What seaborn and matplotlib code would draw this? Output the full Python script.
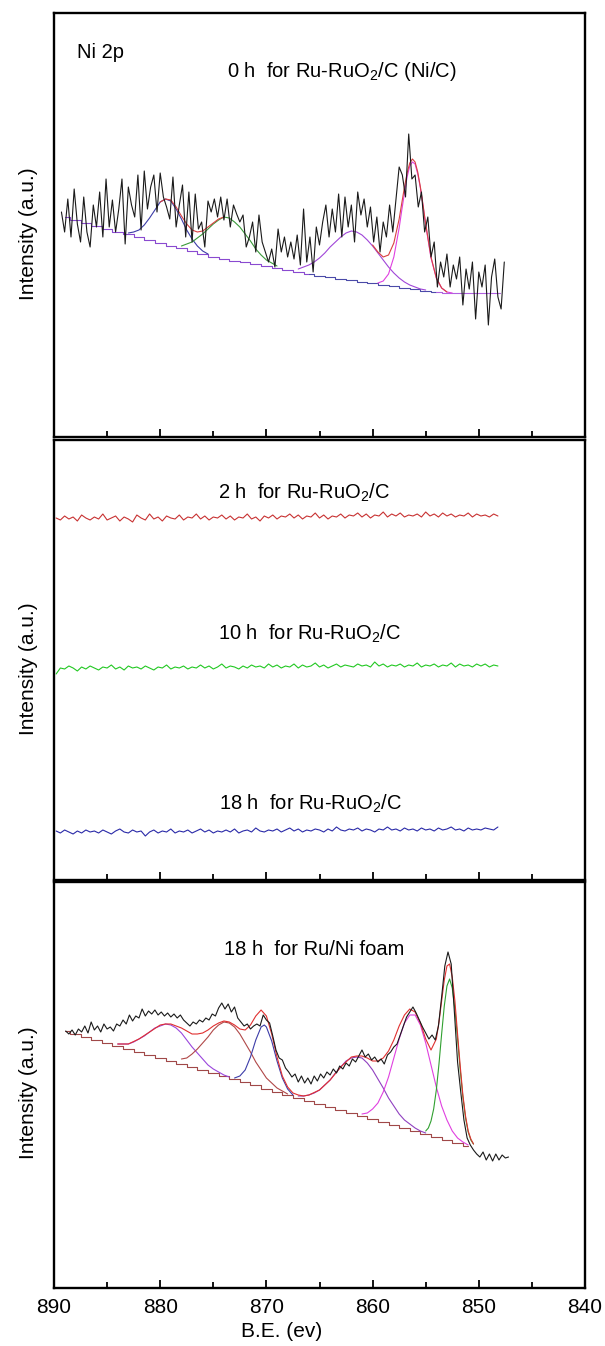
import numpy as np
import matplotlib
matplotlib.use("Agg")
import matplotlib.pyplot as plt
import seaborn as sns
from matplotlib.ticker import MultipleLocator

sns.set_style("white")
plt.rcParams['font.family'] = ['Liberation Sans', 'DejaVu Sans']
plt.rcParams['mathtext.fontset'] = 'custom'
plt.rcParams['mathtext.rm'] = 'Liberation Sans'
plt.rcParams['mathtext.it'] = 'Liberation Sans:italic'
plt.rcParams['text.color'] = 'black'
plt.rcParams['axes.labelcolor'] = 'black'
plt.rcParams['xtick.color'] = 'black'
plt.rcParams['ytick.color'] = 'black'


def grid(start, stop, step):
    return np.round(np.arange(start, stop - step * 0.5, -step), 3)


# ---------------- Panel 1: 0 h for Ru-RuO2/C (Ni/C) ----------------
p1_be = grid(889.3, 847.6, 0.3)
p1_raw = [225, 205, 238, 200, 248, 213, 195, 240, 205, 190,
          232, 210, 245, 200, 258, 210, 237, 205, 228, 258,
          193, 250, 232, 220, 262, 207, 266, 228, 250, 262,
          225, 264, 240, 230, 218, 260, 210, 232, 252, 200,
          245, 195, 243, 208, 215, 190, 236, 225, 238, 220,
          240, 217, 238, 210, 232, 223, 215, 222, 190, 200,
          215, 185, 222, 195, 185, 175, 188, 170, 208, 185,
          200, 180, 195, 178, 202, 172, 228, 175, 200, 165,
          210, 192, 215, 232, 200, 228, 205, 243, 200, 240,
          210, 232, 195, 245, 222, 238, 210, 230, 195, 220,
          185, 215, 200, 232, 205, 238, 270, 262, 240, 303,
          258, 262, 230, 245, 205, 220, 180, 195, 150, 175,
          160, 183, 150, 172, 158, 180, 132, 168, 148, 175,
          118, 165, 150, 172, 112, 160, 178, 140, 128, 175]
p1_bg_be = grid(889, 848, 1.0)
p1_bg = [220, 217, 214, 211, 208, 205, 203, 200, 197, 194,
         191, 189, 186, 183, 180, 178, 176, 175, 173, 171,
         169, 167, 165, 163, 161, 160, 158, 157, 155, 154,
         152, 151, 149, 148, 146, 145, 144, 144, 144, 144,
         144, 144]
p1_blue_be = grid(883, 875.5, 0.5)
p1_blue = [204, 205, 207, 212, 219, 227, 235, 238, 236, 228, 218, 207, 198, 191, 186, 183]
p1_green_be = grid(878, 869, 0.5)
p1_green = [191, 193, 195, 199, 203, 208, 213, 217, 220, 219, 215, 210, 203, 196, 188, 182, 177, 174, 171]
p1_purple_be = grid(867, 855, 0.5)
p1_purple = [168, 170, 172, 175, 179, 184, 190, 195, 200, 204, 206, 205, 202,
             197, 191, 184, 177, 170, 164, 159, 155, 152, 150, 148, 147]
p1_mag_be = [859.5, 859, 858.5, 858, 857.5, 857.25, 857, 856.75, 856.5, 856.25,
             856, 855.75, 855.5, 855.25, 855, 854.5, 854, 853.5, 853, 852.5]
p1_mag = [154, 156, 163, 180, 209, 227, 244, 260, 271, 275,
          273, 263, 249, 231, 212, 179, 159, 149, 145, 144]
p1_env1_be = grid(880, 874, 0.5)
p1_env1 = [235, 238, 237, 230, 221, 213, 207, 205, 206, 210, 214, 218, 220]
p1_env2_be = [860, 859.5, 859, 858.5, 858, 857.5, 857.25, 857, 856.75, 856.5,
              856.25, 856, 855.75, 855.5, 855.25, 855, 854.5, 854, 853.5, 853]
p1_env2 = [192, 185, 180, 182, 194, 218, 234, 250, 264, 274,
           278, 275, 265, 250, 232, 213, 180, 159, 149, 145]

# ---------------- Panel 2: 2 h / 10 h / 18 h for Ru-RuO2/C ----------------
p2_be = grid(889.8, 848.2, 0.4)
p2_2h = [362, 360, 364, 361, 363, 359, 365, 362, 360, 363,
         361, 366, 360, 362, 364, 359, 363, 361, 358, 365,
         362, 360, 366, 361, 363, 359, 364, 362, 361, 365,
         360, 363, 362, 366, 361, 364, 360, 363, 362, 365,
         361, 364, 360, 363, 362, 366, 361, 363, 359, 364,
         362, 365, 361, 364, 363, 366, 362, 365, 361, 364,
         363, 367, 362, 365, 361, 364, 363, 366, 362, 365,
         364, 367, 363, 366, 362, 365, 364, 368, 363, 366,
         364, 367, 363, 365, 364, 366, 363, 368, 364, 366,
         363, 367, 364, 366, 363, 365, 364, 367, 363, 366,
         364, 365, 363, 366, 364]
p2_10h = [206, 212, 211, 214, 212, 209, 213, 211, 214, 212,
          210, 213, 212, 215, 211, 213, 210, 214, 212, 213,
          211, 214, 212, 210, 213, 212, 215, 211, 213, 212,
          214, 211, 213, 212, 215, 212, 214, 211, 213, 216,
          212, 214, 213, 211, 214, 212, 215, 213, 214, 212,
          216, 213, 215, 212, 214, 213, 216, 212, 215, 213,
          214, 217, 213, 215, 212, 214, 216, 213, 215, 214,
          213, 216, 214, 215, 213, 218, 214, 216, 213, 215,
          214, 216, 213, 215, 214, 217, 213, 215, 214, 216,
          213, 215, 214, 217, 213, 216, 214, 215, 213, 216,
          214, 216, 213, 215, 214]
p2_18h = [49, 47, 50, 48, 46, 49, 47, 50, 48, 49,
          47, 50, 48, 46, 49, 51, 48, 47, 50, 48,
          49, 44, 48, 50, 47, 49, 48, 51, 47, 49,
          48, 50, 47, 49, 51, 48, 50, 47, 49, 48,
          50, 48, 51, 47, 49, 50, 48, 52, 49, 48,
          50, 49, 51, 48, 50, 52, 49, 51, 48, 50,
          49, 51, 50, 48, 51, 49, 53, 50, 49, 51,
          50, 52, 49, 51, 50, 48, 51, 50, 53, 50,
          51, 49, 52, 50, 51, 49, 52, 50, 51, 49,
          52, 50, 51, 53, 50, 51, 49, 52, 50, 51,
          50, 52, 51, 50, 53]

# ---------------- Panel 3: 18 h for Ru/Ni foam ----------------
p3_be = grid(888.9, 847.2, 0.3)
p3_raw = [257, 254, 258, 253, 259, 256, 262, 255, 266, 258,
          262, 256, 264, 259, 261, 257, 264, 262, 268, 264,
          273, 267, 272, 270, 279, 272, 277, 274, 278, 273,
          276, 272, 275, 271, 274, 270, 273, 268, 265, 262,
          266, 264, 268, 266, 270, 268, 274, 272, 280, 285,
          279, 284, 276, 281, 270, 266, 262, 264, 259, 262,
          264, 262, 273, 268, 265, 252, 238, 230, 228, 220,
          216, 211, 214, 206, 212, 205, 210, 204, 212, 207,
          214, 210, 216, 213, 219, 215, 222, 219, 225, 222,
          229, 226, 232, 238, 231, 234, 228, 231, 226, 229,
          224, 233, 236, 241, 244, 253, 262, 271, 276, 281,
          275, 268, 261, 255, 249, 253, 248, 262, 291, 322,
          336, 324, 276, 226, 196, 168, 150, 143, 138, 134,
          131, 136, 128, 134, 127, 134, 128, 133, 130, 131]
p3_bg_be = grid(889, 851, 1.0)
p3_bg = [257, 254, 251, 248, 245, 242, 239, 236, 233, 230,
         227, 224, 221, 218, 215, 212, 209, 206, 203, 199,
         196, 193, 190, 187, 184, 181, 178, 175, 172, 169,
         166, 163, 160, 157, 154, 151, 148, 145, 142]
p3_purple1_be = grid(884, 873.5, 0.5)
p3_purple1 = [244, 244, 244, 246, 249, 252, 256, 260, 262, 264, 263,
              260, 255, 248, 241, 235, 229, 223, 219, 216, 213, 211]
p3_brown_be = grid(878, 868, 0.5)
p3_brown = [229, 230, 234, 239, 245, 251, 258, 263, 266, 265, 261,
            254, 245, 236, 226, 218, 210, 205, 200, 197, 194]
p3_navy_be = [873, 872.5, 872, 871.5, 871, 870.5, 870.2, 870, 869.5, 869, 868.5, 868, 867.5]
p3_navy = [210, 212, 218, 231, 248, 261, 263, 261, 247, 227, 210, 199, 193]
p3_purple2_be = grid(867, 855, 0.5)
p3_purple2 = [192, 192, 193, 195, 198, 203, 208, 215, 221, 227, 230, 231, 230,
              225, 218, 209, 200, 190, 182, 174, 168, 164, 160, 157, 155]
p3_mag_be = grid(861, 851, 0.5)
p3_mag = [174, 175, 179, 185, 196, 211, 230, 249, 265, 273, 273,
          263, 245, 223, 201, 182, 168, 157, 150, 146, 143]
p3_green_be = grid(855, 850.5, 0.25)
p3_green = [157, 160, 167, 179, 198, 224, 254, 282, 302, 309,
            300, 279, 249, 218, 191, 170, 156, 148, 144]
p3_env_be = [884, 883, 882, 881, 880, 879.5, 879, 878.5, 878, 877.5, 877, 876.5, 876, 875.5, 875,
             874.5, 874, 873.5, 873, 872.5, 872, 871.5, 871, 870.5, 870,
             869.5, 869, 868.5, 868, 867.5, 867, 866.5, 866,
             865, 864, 863, 862,
             861.5, 861, 860.5, 860, 859.5, 859, 858.5, 858, 857.5, 857,
             856.5, 856, 855.5, 855, 854.5, 854,
             853.75, 853.5, 853.25, 853, 852.75, 852.5, 852.25, 852,
             851.75, 851.5, 851.25, 851, 850.75, 850.5]
p3_env = [244, 244, 249, 256, 263, 264, 264, 262, 260, 257, 254, 254, 255, 258, 262,
          265, 267, 266, 263, 259, 258, 263, 272, 278, 272,
          254, 231, 212, 201, 195, 193, 192, 193,
          198, 208, 221, 231,
          232, 232, 230, 227, 227, 230, 237, 248, 262, 273,
          279, 276, 265, 249, 238, 249,
          266, 287, 308, 322, 324, 311, 287, 254,
          222, 193, 172, 157, 149, 144]

# ---------------- Figure ----------------
fig = plt.figure(figsize=(6.05, 13.46), dpi=100)
L, W = 54 / 605, 531 / 605
ax1 = fig.add_axes([L, 1 - 437 / 1346, W, 424.3 / 1346])
ax2 = fig.add_axes([L, 1 - 880 / 1346, W, 440 / 1346])
ax3 = fig.add_axes([L, 1 - 1288 / 1346, W, 406 / 1346])

LW = 0.8


def line(ax, x, y, color, lw=LW, **kw):
    sns.lineplot(x=np.asarray(x, dtype=float), y=np.asarray(y, dtype=float), ax=ax,
                 color=color, linewidth=lw, estimator=None, sort=False,
                 legend=False, **kw)


# panel 1
bgx = np.asarray(p1_bg_be)
bgy = np.asarray(p1_bg)
m1 = bgx >= 866
m2 = (bgx <= 866) & (bgx >= 854)
m3 = bgx <= 854
line(ax1, bgx[m1], bgy[m1], '#8a4ad0', drawstyle='steps-mid')
line(ax1, bgx[m2], bgy[m2], '#4a4aa8', drawstyle='steps-mid')
line(ax1, bgx[m3], bgy[m3], '#b060e0', drawstyle='steps-mid')
line(ax1, p1_blue_be, p1_blue, '#3c3ca8')
line(ax1, p1_green_be, p1_green, '#3a9a3a')
line(ax1, p1_purple_be, p1_purple, '#a046d8')
line(ax1, p1_mag_be, p1_mag, '#e040e0')
line(ax1, p1_env1_be, p1_env1, '#d84040')
line(ax1, p1_env2_be, p1_env2, '#d84040')
line(ax1, p1_be, p1_raw, '#1a1a1a')
ax1.set_ylim(0, 424.3)
ax1.text(887.8, 378.7, 'Ni 2p', fontsize=14.5, ha='left', va='baseline')
ax1.text(862.9, 360.3, r'0 h  for Ru-RuO$_\mathregular{2}$/C (Ni/C)', fontsize=14.5,
         ha='center', va='baseline')

# panel 2
line(ax2, p2_be, p2_2h, '#c83232')
line(ax2, p2_be, p2_10h, '#22c822')
line(ax2, p2_be, p2_18h, '#2a2aa8')
ax2.set_ylim(0, 440)
ax2.text(866.5, 381.7, r'2 h  for Ru-RuO$_\mathregular{2}$/C', fontsize=14.5, ha='center', va='baseline')
ax2.text(865.9, 240.7, r'10 h  for Ru-RuO$_\mathregular{2}$/C', fontsize=14.5, ha='center', va='baseline')
ax2.text(865.8, 70.7, r'18 h  for Ru-RuO$_\mathregular{2}$/C', fontsize=14.5, ha='center', va='baseline')

# panel 3
line(ax3, p3_bg_be, p3_bg, '#a04848', drawstyle='steps-mid')
line(ax3, p3_purple1_be, p3_purple1, '#9a46dc')
line(ax3, p3_brown_be, p3_brown, '#b04848')
line(ax3, p3_navy_be, p3_navy, '#3c3ca8')
line(ax3, p3_purple2_be, p3_purple2, '#9040c0')
line(ax3, p3_mag_be, p3_mag, '#e040e0')
line(ax3, p3_green_be, p3_green, '#30a030')
line(ax3, p3_env_be, p3_env, '#e03030')
line(ax3, p3_be, p3_raw, '#1a1a1a')
ax3.set_ylim(0, 406)
ax3.text(865.5, 333, '18 h  for Ru/Ni foam', fontsize=14.5, ha='center', va='baseline')

for ax in (ax1, ax2, ax3):
    ax.set_xlim(890, 840)
    ax.set_yticks([])
    ax.xaxis.set_major_locator(MultipleLocator(10))
    ax.xaxis.set_minor_locator(MultipleLocator(5))
    ax.tick_params(axis='x', which='both', direction='in', bottom=True, top=False,
                   width=1.3, colors='black')
    ax.tick_params(axis='x', which='major', length=6)
    ax.tick_params(axis='x', which='minor', length=4)
    for s in ax.spines.values():
        s.set_visible(True)
        s.set_linewidth(1.7)
        s.set_color('black')
    ax.set_xlabel('')
    ax.set_ylabel('Intensity (a.u.)', fontsize=15, color='black')
    ax.yaxis.set_label_coords(-0.03, 0.48)

ax1.tick_params(labelbottom=False)
ax2.tick_params(labelbottom=False)
ax3.tick_params(axis='x', which='major', labelsize=15, pad=7, labelcolor='black')
ax3.set_xlabel('B.E. (ev)', fontsize=15, color='black')
ax3.xaxis.set_label_coords(0.429, -0.083)

fig.savefig('out.png', dpi=100)
